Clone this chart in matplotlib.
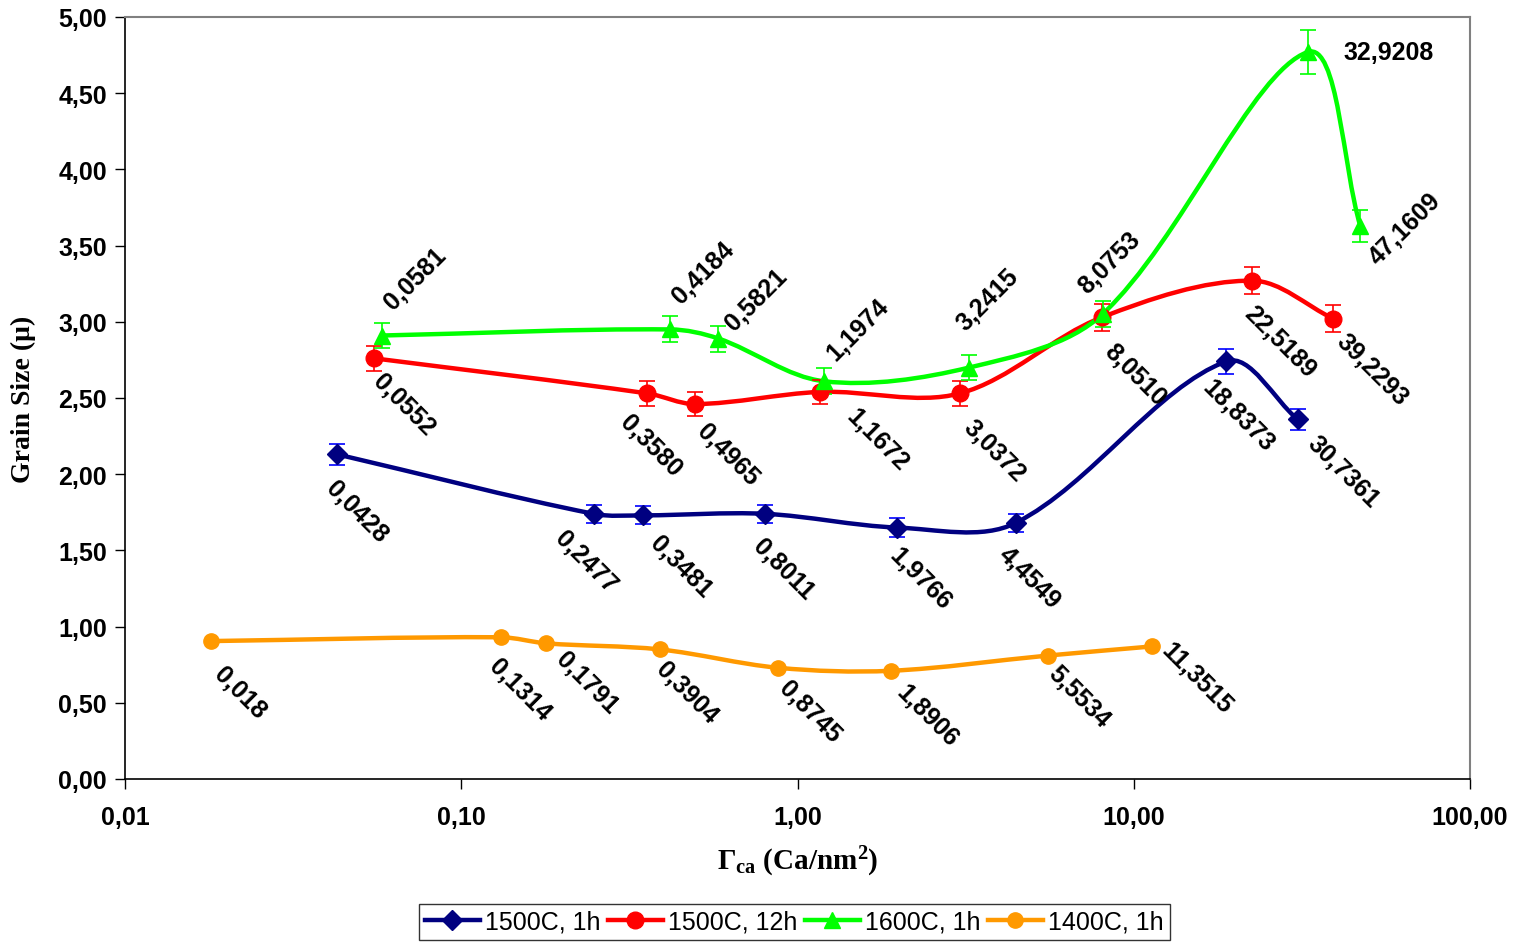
import matplotlib
matplotlib.use("Agg")
import matplotlib.pyplot as plt
import numpy as np
from matplotlib.path import Path
from matplotlib.patches import PathPatch
from matplotlib.lines import Line2D
from matplotlib.ticker import FixedLocator, FuncFormatter, NullLocator

plt.rcParams['font.family'] = ['Liberation Sans', 'DejaVu Sans']
plt.rcParams['mathtext.fontset'] = 'custom'
plt.rcParams['mathtext.rm'] = 'Liberation Serif:bold'
plt.rcParams['mathtext.it'] = 'Liberation Serif:bold'
plt.rcParams['mathtext.bf'] = 'Liberation Serif:bold'

# data (x = Ca coverage, y = grain size)
x_1500_1h = [0.0428, 0.2477, 0.3481, 0.8011, 1.9766, 4.4549, 18.8373, 30.7361]
y_1500_1h = [2.13, 1.74, 1.73, 1.74, 1.65, 1.68, 2.74, 2.36]
e_1500_1h = [0.07, 0.06, 0.06, 0.06, 0.06, 0.06, 0.08, 0.07]
lab_1500_1h = ["0,0428", "0,2477", "0,3481", "0,8011", "1,9766", "4,4549", "18,8373", "30,7361"]

x_1500_12h = [0.0552, 0.3580, 0.4965, 1.1672, 3.0372, 8.0510, 22.5189, 39.2293]
y_1500_12h = [2.76, 2.53, 2.46, 2.54, 2.53, 3.03, 3.27, 3.02]
e_1500_12h = [0.08, 0.08, 0.08, 0.08, 0.08, 0.09, 0.09, 0.09]
lab_1500_12h = ["0,0552", "0,3580", "0,4965", "1,1672", "3,0372", "8,0510", "22,5189", "39,2293"]

x_1600_1h = [0.0581, 0.4184, 0.5821, 1.1974, 3.2415, 8.0753, 32.9208, 47.1609]
y_1600_1h = [2.91, 2.95, 2.89, 2.61, 2.70, 3.05, 4.77, 3.63]
e_1600_1h = [0.085, 0.085, 0.085, 0.085, 0.085, 0.085, 0.145, 0.105]
lab_1600_1h = ["0,0581", "0,4184", "0,5821", "1,1974", "3,2415", "8,0753", "32,9208", "47,1609"]

x_1400_1h = [0.018, 0.1314, 0.1791, 0.3904, 0.8745, 1.8906, 5.5534, 11.3515]
y_1400_1h = [0.905, 0.93, 0.89, 0.85, 0.73, 0.71, 0.81, 0.87]
lab_1400_1h = ["0,018", "0,1314", "0,1791", "0,3904", "0,8745", "1,8906", "5,5534", "11,3515"]

# label placement (pixel offsets right/down, rotation)
off_1500_1h = [(19, 57), (-8, 47), (37, 51), (18, 55), (23, 51), (14, 54), (12, 54), (46, 52)]
off_1500_12h = [(29, 46), (3, 52), (33, 50), (57, 47), (35, 57), (33, 57), (28, 61), (39, 50)]
off_1600_1h = [(33, -57), (33, -57), (38, -39), (34, -52), (19, -68), (7, -52), (81, 0), (45, 2)]
rot_1600_1h = [45, 45, 45, 45, 45, 45, 0, 45]
off_1400_1h = [(29, 51), (19, 52), (41, 39), (27, 43), (32, 44), (37, 44), (31, 41), (44, 31)]


def smooth_path(ax, xs, ys):
    # Excel-like smoothed line: cubic bezier built in pixel space
    P = ax.transData.transform(np.column_stack([xs, ys]))
    n = len(P)
    verts = [P[0]]
    codes = [Path.MOVETO]
    for i in range(n - 1):
        p0, p1, p2, p3 = P[max(i - 1, 0)], P[i], P[i + 1], P[min(i + 2, n - 1)]
        d01 = np.hypot(*(p1 - p0))
        d12 = np.hypot(*(p2 - p1))
        d23 = np.hypot(*(p3 - p2))
        c1 = p1 + (p2 - p0) * d12 / (3 * (d01 + d12))
        c2 = p2 - (p3 - p1) * d12 / (3 * (d12 + d23))
        verts += [c1, c2, p2]
        codes += [Path.CURVE4] * 3
    verts = ax.transData.inverted().transform(np.array(verts))
    return Path(verts, codes)


fig = plt.figure(figsize=(15.17, 9.45), dpi=100)
ax = fig.add_axes([125 / 1517, 1 - 780 / 945, (1470 - 125) / 1517, (780 - 18) / 945])
ax.set_xscale('log')
ax.set_xlim(0.01, 100)
ax.set_ylim(0, 5)

series = [
    (x_1500_1h, y_1500_1h, e_1500_1h, '#000080', '#0000FF', 'D', 10, lab_1500_1h, off_1500_1h, [-45] * 8, '1500C, 1h'),
    (x_1500_12h, y_1500_12h, e_1500_12h, '#FF0000', '#FF0000', 'o', 12, lab_1500_12h, off_1500_12h, [-45] * 8, '1500C, 12h'),
    (x_1600_1h, y_1600_1h, e_1600_1h, '#00FF00', '#00FF00', '^', 12, lab_1600_1h, off_1600_1h, rot_1600_1h, '1600C, 1h'),
    (x_1400_1h, y_1400_1h, None, '#FF9900', '#FF9900', 'o', 11, lab_1400_1h, off_1400_1h, [-45] * 8, '1400C, 1h'),
]

handles = []
for xs, ys, es, col, ecol, mk, ms, labs, offs, rots, name in series:
    ax.add_patch(PathPatch(smooth_path(ax, xs, ys), fill=False, edgecolor=col, lw=3.2, zorder=3))
    if es is not None:
        ax.errorbar(xs, ys, yerr=es, fmt='none', ecolor=ecol, elinewidth=1.2, capsize=6, capthick=1.2, zorder=4)
    ax.plot(xs, ys, linestyle='none', marker=mk, ms=ms, color=col, mec=col, zorder=5)
    for x, y, t, (dx, dy), r in zip(xs, ys, labs, offs, rots):
        ax.annotate(t, (x, y), xytext=(dx, -dy), textcoords='offset pixels',
                    ha='center', va='center', rotation=r, rotation_mode='anchor',
                    fontsize=18, fontweight='bold', zorder=6)
    handles.append(Line2D([], [], color=col, lw=3.2, marker=mk, ms=ms, mec=col, label=name))

for s in ['top', 'right']:
    ax.spines[s].set_color('#808080')
    ax.spines[s].set_linewidth(1.5)
for s in ['left', 'bottom']:
    ax.spines[s].set_color('black')
    ax.spines[s].set_linewidth(1.2)

ax.xaxis.set_major_locator(FixedLocator([0.01, 0.1, 1, 10, 100]))
ax.xaxis.set_minor_locator(NullLocator())
ax.xaxis.set_major_formatter(FuncFormatter(lambda v, p: f"{v:.2f}".replace('.', ',')))
ax.set_yticks(np.arange(0, 5.01, 0.5))
ax.yaxis.set_major_formatter(FuncFormatter(lambda v, p: f"{v:.2f}".replace('.', ',')))
ax.tick_params(direction='out', length=7, width=1, labelsize=18)
ax.tick_params(axis='x', pad=12)
ax.tick_params(axis='y', pad=6)
for lab in ax.get_xticklabels() + ax.get_yticklabels():
    lab.set_fontweight('bold')

ax.set_xlabel(r'$\Gamma_{ca}$ (Ca/nm$^{2}$)', fontsize=21, fontfamily='Liberation Serif',
              fontweight='bold')
ax.xaxis.set_label_coords(0.5, -0.085)
ax.set_ylabel('Grain Size (\u03bc)', fontsize=20, fontfamily='Liberation Serif',
              fontweight='bold')
ax.yaxis.set_label_coords(-0.066, 0.5)

leg = fig.legend(handles=handles, loc='center', bbox_to_anchor=(794 / 1517, 1 - 923 / 945),
                 ncol=4, fontsize=18, frameon=True, fancybox=False, edgecolor='black',
                 handlelength=2.2, handletextpad=0.2, columnspacing=0.3, borderpad=0.25)
leg.get_frame().set_linewidth(1.0)

fig.savefig('out.png', dpi=100)
